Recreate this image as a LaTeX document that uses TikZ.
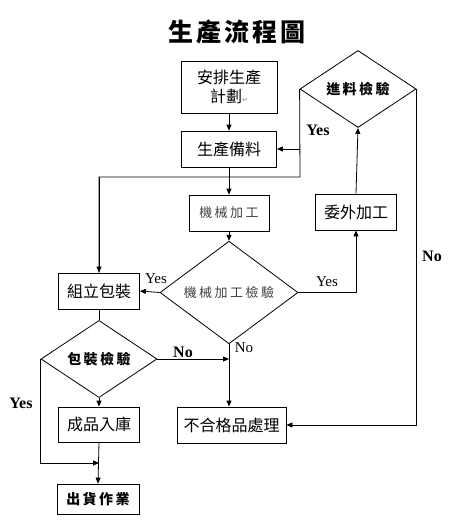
\documentclass[tikz,border=0pt]{standalone}
\usepackage{fontspec}
\setmainfont{Liberation Serif}
\newfontfamily\cjk{Noto Sans CJK TC}
\newfontfamily\dejavu{DejaVu Sans}
\usetikzlibrary{shapes.geometric,arrows.meta}
\newcommand\lsp{\kern2.5pt}
\tikzset{
  box/.style={draw, line width=0.8pt, inner sep=0pt, align=center,
    font=\cjk\fontsize{16}{19}\selectfont},
  dia/.style={draw, diamond, line width=0.8pt, inner sep=0pt, align=center,
    font=\cjk\bfseries\fontsize{14}{16}\selectfont},
  conn/.style={line width=0.8pt},
  arr/.style={conn, -{Triangle[length=6pt,width=5pt]}},
  ylab/.style={font=\bfseries\fontsize{16}{18}\selectfont},
  nlab/.style={font=\fontsize{15}{17}\selectfont},
  graytxt/.style={text=black!75, font=\cjk\fontsize{13}{15}\selectfont}
}
\begin{document}
\begin{tikzpicture}[x=1pt,y=-1pt]
\useasboundingbox (0,0) rectangle (448,531);
\node[font=\cjk\bfseries\fontsize{25}{28}\selectfont] (title) at (237,31.5)
  {生\kern3pt 產\kern3pt 流\kern3pt 程\kern3pt 圖};
% boxes
\node[box, minimum width=96pt, minimum height=52pt] (plan) at (229,87)
  {安排生產\\計劃{\dejavu\fontsize{7}{8}\selectfont\color{black!50}↵}};
\node[box, minimum width=95pt, minimum height=36pt] (prep) at (229,149) {生產備料};
\node[box, graytxt, draw=black, minimum width=80pt, minimum height=36pt] (mach) at (229,213)
  {機\lsp 械\lsp 加\lsp 工};
\node[box, minimum width=81pt, minimum height=36pt] (outs) at (356,212) {委外加工};
\node[box, minimum width=81pt, minimum height=36pt] (asm) at (99,291) {組立包裝};
\node[box, minimum width=81pt, minimum height=35pt] (fin) at (99,424.5) {成品入庫};
\node[box, minimum width=109pt, minimum height=36pt] (rej) at (231.5,425) {不合格品處理};
\node[box, font=\cjk\bfseries\fontsize{14}{16}\selectfont, minimum width=82pt, minimum height=30pt] (ship) at (98,499)
  {出\lsp 貨\lsp 作\lsp 業};
% diamonds
\node[dia, minimum width=116pt, minimum height=56pt] (inc) at (358,89)
  {進\lsp 料\lsp 檢\lsp 驗};
\node[dia, graytxt, minimum width=138pt, minimum height=73pt] (mchk) at (229,292.5)
  {機\lsp 械\lsp 加\lsp 工\lsp 檢\lsp 驗};
\node[dia, minimum width=116pt, minimum height=54pt] (pchk) at (99,359)
  {包\lsp 裝\lsp 檢\lsp 驗};
% helper coordinates
\coordinate (j1) at (inc.west |- prep.east);
\coordinate (c1) at (300,177);
\coordinate (j2) at (mchk.south |- pchk.east);
\coordinate (c2) at (41,463);
\coordinate (j3) at (fin.south |- c2);
% connectors
\draw[arr] (plan) -- (prep);
\draw[arr] (prep) -- (mach);
\draw[arr] (mach) -- (mchk);
\draw[conn] (inc.west) -- (c1) -| (asm.north);
\draw[arr] (c1 -| asm.north) -- (asm.north);
\draw[arr] (j1) -- (prep.east);
\draw[arr] (inc.east) |- (rej.east);
\draw[arr] (outs.north) -- (inc.south);
\draw[arr] (mchk.east) -| (outs.south);
\draw[arr] (mchk.west) -- (asm.east);
\draw[arr] (mchk.south) -- (mchk.south |- rej.north);
\draw[conn] (asm.south) -- (pchk.north);
\draw[arr] (pchk.east) -- (j2);
\draw[arr] (pchk.south) -- (fin.north);
\draw[arr] (fin.south) -- (ship.north);
\draw[arr] (pchk.west) |- (j3);
% labels
\node[ylab] (y1) at (318,130) {Yes};
\node[ylab] (n1) at (432,256) {No};
\node[nlab] (y2) at (327,282) {Yes};
\node[nlab] (y3) at (156,279) {Yes};
\node[nlab] (n2) at (244,348) {No};
\node[ylab] (n3) at (183,352) {No};
\node[ylab] (y4) at (21,403) {Yes};
\end{tikzpicture}
\end{document}
